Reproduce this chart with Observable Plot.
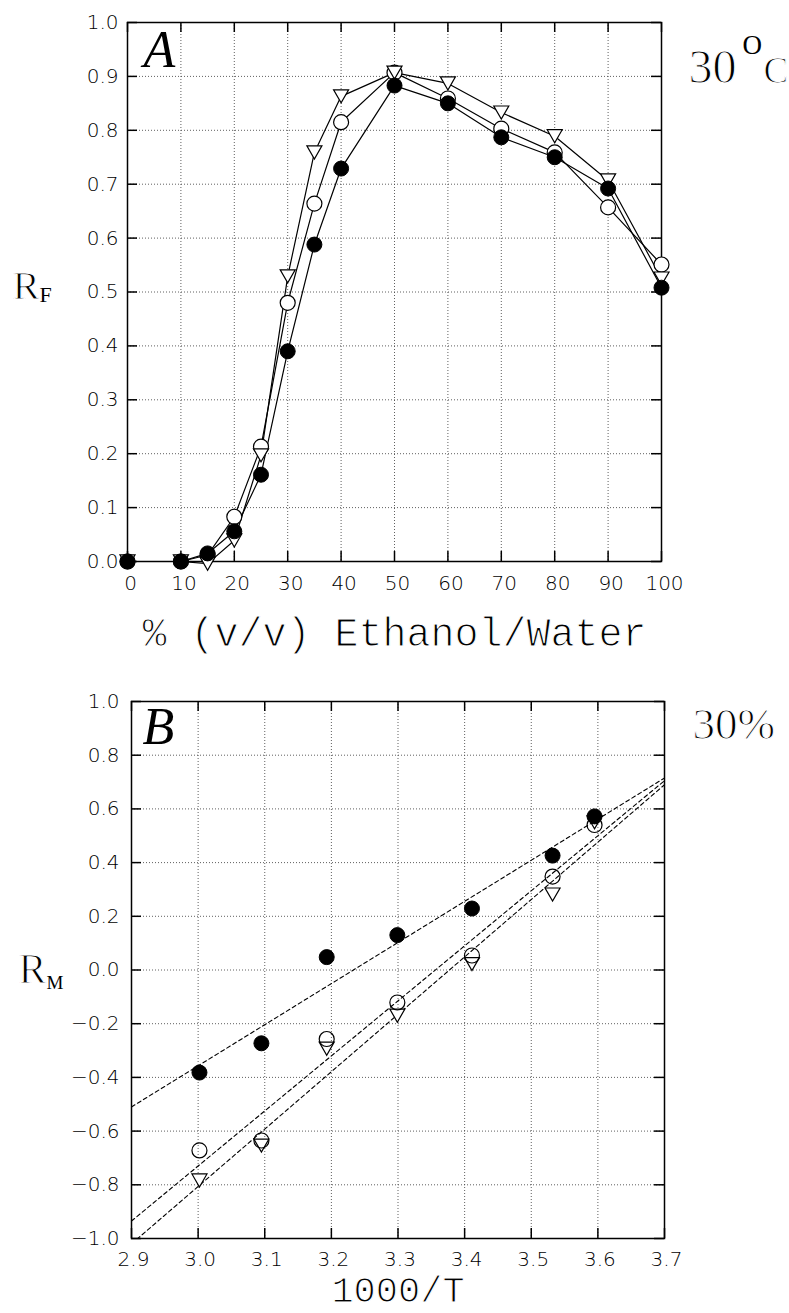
<!DOCTYPE html>
<html>
<head>
<meta charset="utf-8">
<script src="https://cdn.jsdelivr.net/npm/d3@7"></script>
<script src="https://cdn.jsdelivr.net/npm/@observablehq/plot@0.6"></script>
<style>
  body { margin: 0; background: #fff; }
  #chart { width: 789px; }
  #chart svg { display: block; }
</style>
</head>
<body>
<div id="chart"></div>
<script>
// ---------- Panel A data: RF vs % (v/v) ethanol/water at 30 °C ----------
const ethanolPct = [0, 10, 15, 20, 25, 30, 35, 40, 50, 60, 70, 80, 90, 100];
const rfFilled   = [0.0, 0.0, 0.015, 0.056, 0.161, 0.390, 0.588, 0.729, 0.883, 0.850, 0.787, 0.750, 0.692, 0.508];
const rfOpen     = [0.0, 0.0, 0.012, 0.083, 0.213, 0.480, 0.664, 0.815, 0.907, 0.859, 0.803, 0.759, 0.657, 0.551];
const rfTriangle = [0.0, 0.0, -0.004, 0.039, 0.197, 0.529, 0.759, 0.863, 0.907, 0.887, 0.833, 0.789, 0.707, 0.525];
const aXTicks = [0, 10, 20, 30, 40, 50, 60, 70, 80, 90, 100];
const aYTicks = [0.0, 0.1, 0.2, 0.3, 0.4, 0.5, 0.6, 0.7, 0.8, 0.9, 1.0];

// ---------- Panel B data: RM vs 1000/T at 30 % ----------
const invTemp     = [3.002, 3.095, 3.193, 3.299, 3.411, 3.532, 3.595];
const rmFilled    = [-0.382, -0.273, 0.048, 0.130, 0.229, 0.426, 0.572];
const rmOpen      = [-0.672, -0.635, -0.257, -0.121, 0.054, 0.348, 0.540];
const rmTriangle  = [-0.784, -0.654, -0.293, -0.170, 0.022, 0.281, 0.550];
// dashed fit lines (end points read at the frame edges)
const fitX        = [2.9, 3.7];
const fitFilled   = [-0.51, 0.715];
const fitOpen     = [-0.935, 0.705];
const fitTriangle = [-1.02, 0.69];
const bXTicks = [2.9, 3.0, 3.1, 3.2, 3.3, 3.4, 3.5, 3.6, 3.7];
const bYTicks = [-1.0, -0.8, -0.6, -0.4, -0.2, 0.0, 0.2, 0.4, 0.6, 0.8, 1.0];

// ---------- helpers ----------
const W = 789;
const fmt1 = d3.format(".1f");
const pts = (xs, ys) => xs.map((x, i) => ({x, y: ys[i]}));
const downTriangle = {
  draw(context, size) {
    const w = Math.sqrt(size) * 1.13, h = w * 0.87;
    context.moveTo(-w / 2, -h / 2);
    context.lineTo(w / 2, -h / 2);
    context.lineTo(0, h / 2);
    context.closePath();
  }
};
const gridStyle = {stroke: "#444", strokeOpacity: 0.85, strokeWidth: 1, strokeDasharray: "1,2"};
const tickStyle = {stroke: "black", strokeWidth: 1.5, strokeOpacity: 1};
const tickText = {fontSize: 20, fontFamily: "DejaVu Sans", fontWeight: 200, fill: "black"};
const serif = "Liberation Serif";
const mono = "Liberation Mono";
const thin = {stroke: "white", strokeWidth: 1.1, paintOrder: "normal"};
const label = (s, opts) => Plot.text([s], {text: d => d, fill: "black", fontWeight: "normal", textAnchor: "start", lineAnchor: "bottom", ...opts});

function innerTicks(xt, yt, fw, fh) {
  return [
    Plot.tickX(xt, {x: d => d, insetTop: fh - 10, ...tickStyle}),
    Plot.tickX(xt, {x: d => d, insetBottom: fh - 10, ...tickStyle}),
    Plot.tickY(yt, {y: d => d, insetRight: fw - 10, ...tickStyle}),
    Plot.tickY(yt, {y: d => d, insetLeft: fw - 10, ...tickStyle})
  ];
}

const baseStyle = {fontFamily: "DejaVu Sans", fontSize: "20px", color: "#000", background: "#fff", overflow: "visible"};

// ---------- Panel A ----------
const mA = {top: 22, right: 128, bottom: 99, left: 127};
const hA = 660;
const fwA = W - mA.left - mA.right, fhA = hA - mA.top - mA.bottom;
const plotA = Plot.plot({
  width: W, height: hA,
  marginTop: mA.top, marginRight: mA.right, marginBottom: mA.bottom, marginLeft: mA.left,
  x: {domain: [0, 100]},
  y: {domain: [0, 1]},
  style: baseStyle,
  marks: [
    Plot.gridX(aXTicks, gridStyle),
    Plot.gridY(aYTicks, gridStyle),
    ...innerTicks(aXTicks, aYTicks, fwA, fhA),
    Plot.frame({stroke: "black", strokeWidth: 1.5}),
    Plot.axisX(aXTicks, {tickSize: 0, tickPadding: 14, dx: 3, tickFormat: d => String(d), label: null, ...tickText}),
    Plot.axisY(aYTicks, {tickSize: 0, tickPadding: 9, tickFormat: fmt1, label: null, ...tickText}),
    Plot.line(pts(ethanolPct, rfTriangle), {x: "x", y: "y", stroke: "black", strokeWidth: 1.2}),
    Plot.line(pts(ethanolPct, rfOpen), {x: "x", y: "y", stroke: "black", strokeWidth: 1.2}),
    Plot.line(pts(ethanolPct, rfFilled), {x: "x", y: "y", stroke: "black", strokeWidth: 1.2}),
    Plot.dot(pts(ethanolPct, rfOpen), {x: "x", y: "y", r: 7.5, fill: "white", stroke: "black", strokeWidth: 1.2}),
    Plot.dot(pts(ethanolPct, rfTriangle), {x: "x", y: "y", r: 7.5, symbol: downTriangle, fill: "white", stroke: "black", strokeWidth: 1.2}),
    Plot.dot(pts(ethanolPct, rfFilled), {x: "x", y: "y", r: 7.5, fill: "black", stroke: "black", strokeWidth: 1}),
    label("A", {frameAnchor: "top-left", dx: 16, dy: 44, fontFamily: serif, fontStyle: "italic", fontSize: 52}),
    label("30", {frameAnchor: "top-right", dx: 27, dy: 60, fontFamily: serif, fontSize: 48, ...thin}),
    label("O", {frameAnchor: "top-right", dx: 81, dy: 31, fontFamily: serif, fontSize: 27}),
    label("C", {frameAnchor: "top-right", dx: 102, dy: 60, fontFamily: serif, fontSize: 37, ...thin}),
    label("R", {frameAnchor: "top-left", dx: -115, dy: 276, fontFamily: serif, fontSize: 41, ...thin}),
    label("F", {frameAnchor: "top-left", dx: -88, dy: 279, fontFamily: serif, fontSize: 22}),
    label("% (v/v) Ethanol/Water", {frameAnchor: "bottom", textAnchor: "middle", dy: 84, fontFamily: mono, fontSize: 40, ...thin})
  ]
});

// ---------- Panel B ----------
const mB = {top: 41, right: 125, bottom: 75, left: 131};
const hB = 653;
const fwB = W - mB.left - mB.right, fhB = hB - mB.top - mB.bottom;
const plotB = Plot.plot({
  width: W, height: hB,
  marginTop: mB.top, marginRight: mB.right, marginBottom: mB.bottom, marginLeft: mB.left,
  x: {domain: [2.9, 3.7]},
  y: {domain: [-1, 1]},
  style: baseStyle,
  marks: [
    Plot.gridX(bXTicks, gridStyle),
    Plot.gridY(bYTicks, gridStyle),
    ...innerTicks(bXTicks, bYTicks, fwB, fhB),
    Plot.frame({stroke: "black", strokeWidth: 1.5}),
    Plot.axisX(bXTicks, {tickSize: 0, tickPadding: 13, dx: 2, tickFormat: fmt1, label: null, ...tickText}),
    Plot.axisY(bYTicks, {tickSize: 0, tickPadding: 12, tickFormat: fmt1, label: null, ...tickText}),
    Plot.line(pts(fitX, fitFilled), {x: "x", y: "y", stroke: "black", strokeWidth: 1.1, strokeDasharray: "4,3", clip: true}),
    Plot.line(pts(fitX, fitOpen), {x: "x", y: "y", stroke: "black", strokeWidth: 1.1, strokeDasharray: "4,3", clip: true}),
    Plot.line(pts(fitX, fitTriangle), {x: "x", y: "y", stroke: "black", strokeWidth: 1.1, strokeDasharray: "4,3", clip: true}),
    Plot.dot(pts(invTemp, rmTriangle), {x: "x", y: "y", r: 7.5, symbol: downTriangle, fill: "white", stroke: "black", strokeWidth: 1.2}),
    Plot.dot(pts(invTemp, rmOpen), {x: "x", y: "y", r: 7.5, fill: "none", stroke: "black", strokeWidth: 1.2}),
    Plot.dot(pts(invTemp, rmFilled), {x: "x", y: "y", r: 7.5, fill: "black", stroke: "black", strokeWidth: 1}),
    label("B", {frameAnchor: "top-left", dx: 11, dy: 42, fontFamily: serif, fontStyle: "italic", fontSize: 52}),
    label("30%", {frameAnchor: "top-right", dx: 28, dy: 37, fontFamily: serif, fontSize: 45, ...thin}),
    label("R", {frameAnchor: "top-left", dx: -113, dy: 281, fontFamily: serif, fontSize: 42, ...thin}),
    label("M", {frameAnchor: "top-left", dx: -85, dy: 287, fontFamily: serif, fontSize: 19}),
    label("1000/T", {frameAnchor: "bottom", textAnchor: "middle", dy: 63.5, fontFamily: mono, fontSize: 37, ...thin})
  ]
});

const chart = document.getElementById("chart");
chart.appendChild(plotA);
chart.appendChild(plotB);
</script>
</body>
</html>
